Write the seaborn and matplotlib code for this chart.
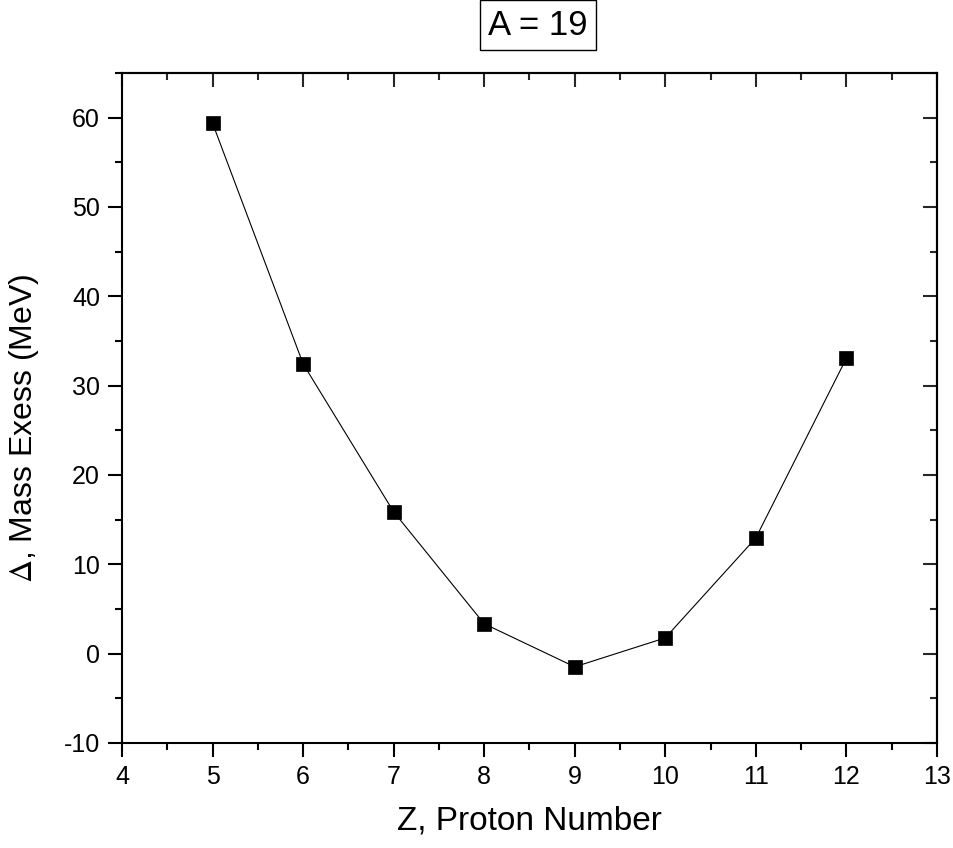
import matplotlib
matplotlib.use('Agg')
import matplotlib.pyplot as plt
from matplotlib import font_manager
from matplotlib.ticker import MultipleLocator
import pandas as pd
import seaborn as sns

# Mass excess for the A = 19 isobar chain
proton_number = [5, 6, 7, 8, 9, 10, 11, 12]
mass_excess = [59.35, 32.42, 15.86, 3.33, -1.49, 1.75, 12.93, 33.04]

df = pd.DataFrame({'Z': proton_number, 'Delta': mass_excess})

sns.set_style('ticks')
plt.rcParams['font.family'] = ['Liberation Sans', 'DejaVu Sans']
plt.rcParams['mathtext.fontset'] = 'stix'
plt.rcParams['axes.unicode_minus'] = False
plt.rcParams['text.color'] = 'black'
plt.rcParams['axes.labelcolor'] = 'black'

installed = {f.name for f in font_manager.fontManager.ttflist}
title_font = 'Liberation Sans Narrow' if 'Liberation Sans Narrow' in installed else 'Liberation Sans'
title_size = 29 if title_font == 'Liberation Sans Narrow' else 25

fig = plt.figure(figsize=(9.54, 8.48), dpi=100)
ax = fig.add_axes([0.128, 0.124, 0.854, 0.790])

sns.lineplot(data=df, x='Z', y='Delta', ax=ax, color='black', linewidth=0.8,
             marker='s', markersize=10.5, markeredgewidth=0.5,
             markeredgecolor='black', markerfacecolor='black')

ax.set_xlim(4, 13)
ax.set_ylim(-10, 65)
ax.xaxis.set_major_locator(MultipleLocator(1))
ax.xaxis.set_minor_locator(MultipleLocator(0.5))
ax.yaxis.set_major_locator(MultipleLocator(10))
ax.yaxis.set_minor_locator(MultipleLocator(5))

for side in ['top', 'right', 'bottom', 'left']:
    ax.spines[side].set_visible(True)
    ax.spines[side].set_linewidth(1.5)
    ax.spines[side].set_color('black')

ax.tick_params(which='both', direction='out', width=1.5, labelsize=18, colors='black',
               top=False, right=False)
ax.tick_params(which='major', length=10, pad=6)
ax.tick_params(which='minor', length=5)

# mirrored inward ticks on top and right
sec_x = ax.secondary_xaxis('top')
sec_x.xaxis.set_major_locator(MultipleLocator(1))
sec_x.xaxis.set_minor_locator(MultipleLocator(0.5))
sec_x.tick_params(which='both', direction='in', width=1.5, labeltop=False)
sec_x.tick_params(which='major', length=10)
sec_x.tick_params(which='minor', length=5)
sec_y = ax.secondary_yaxis('right')
sec_y.yaxis.set_major_locator(MultipleLocator(10))
sec_y.yaxis.set_minor_locator(MultipleLocator(5))
sec_y.tick_params(which='both', direction='in', width=1.5, labelright=False)
sec_y.tick_params(which='major', length=10)
sec_y.tick_params(which='minor', length=5)
for sa in (sec_x, sec_y):
    for sp in sa.spines.values():
        sp.set_linewidth(1.5)

ax.set_xlabel('Z, Proton Number', fontsize=24, labelpad=12)
ax.set_ylabel(r'$\Delta$, Mass Exess (MeV)', fontsize=23)
ax.yaxis.set_label_coords(-0.10, 0.47)

fig.text(0.564, 0.9705, 'A = 19', ha='center', va='center', fontsize=title_size,
         family=title_font,
         bbox=dict(boxstyle='square,pad=0.25', facecolor='white', edgecolor='black', linewidth=1))

fig.savefig('out.png', dpi=100)
